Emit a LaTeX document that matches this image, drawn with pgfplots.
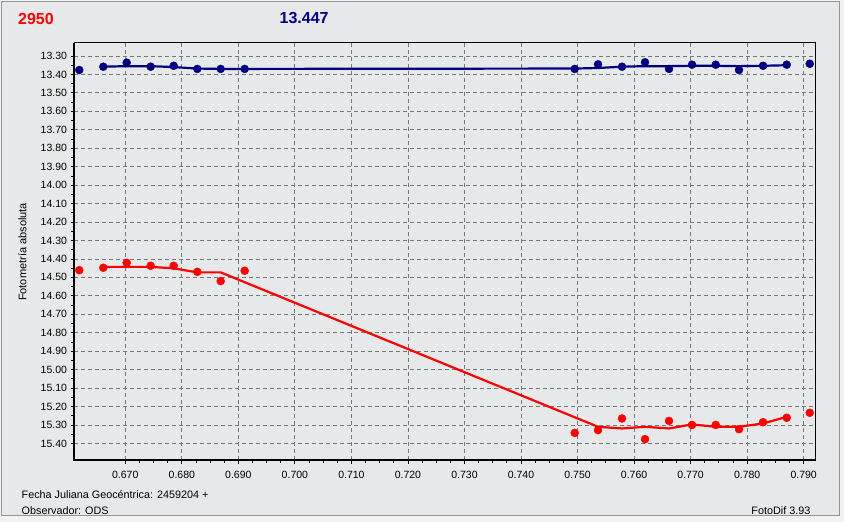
\documentclass[border=0pt]{standalone}
\usepackage{pgfplots}
\pgfplotsset{compat=1.18}
\usepackage{pgfplotstable}
\usepackage{fontspec}
\setmainfont{Liberation Sans}
\definecolor{bg}{RGB}{231,232,233}
\definecolor{outerbg}{RGB}{242,242,242}
\definecolor{framec}{RGB}{150,150,150}
\definecolor{navyc}{RGB}{0,0,128}
\definecolor{redc}{RGB}{255,0,0}
\definecolor{gridc}{RGB}{120,120,120}

\pgfplotstableread{
x y
0.66186 13.376
0.66611 13.358
0.67025 13.336
0.67449 13.358
0.67856 13.353
0.68274 13.370
0.68688 13.370
0.69112 13.370
0.74950 13.370
0.75362 13.345
0.75787 13.358
0.76193 13.334
0.76618 13.370
0.77025 13.347
0.77444 13.347
0.77856 13.376
0.78281 13.353
0.78700 13.347
0.79107 13.342
}\bluedata

\pgfplotstableread{
x y
0.66611 13.358
0.67025 13.355
0.67449 13.355
0.67856 13.360
0.68274 13.368
0.68688 13.370
0.69112 13.370
0.74950 13.368
0.75362 13.365
0.75787 13.358
0.76193 13.355
0.76618 13.355
0.77025 13.353
0.77444 13.353
0.77856 13.355
0.78281 13.353
0.78700 13.350
}\blueline

\pgfplotstableread{
x y
0.66186 14.461
0.66611 14.448
0.67025 14.421
0.67449 14.437
0.67856 14.437
0.68274 14.470
0.68688 14.520
0.69112 14.464
0.74950 15.343
0.75362 15.328
0.75787 15.265
0.76193 15.377
0.76618 15.278
0.77025 15.300
0.77444 15.300
0.77856 15.323
0.78281 15.285
0.78700 15.261
0.79107 15.234
}\reddata

\pgfplotstableread{
x y
0.66611 14.443
0.67025 14.443
0.67449 14.443
0.67856 14.451
0.68274 14.473
0.68688 14.473
0.75362 15.310
0.75787 15.319
0.76193 15.310
0.76618 15.319
0.77025 15.297
0.77444 15.310
0.77856 15.310
0.78281 15.292
0.78700 15.256
}\redline

\begin{document}
\begin{tikzpicture}
\fill[outerbg] (0pt,0pt) rectangle (844pt,522pt);
\fill[bg,draw=framec,line width=1.4pt] (1.2pt,6.3pt) rectangle (839.3pt,520.6pt);
\node[anchor=west,text=redc,font=\fontsize{16}{18}\selectfont\bfseries,inner sep=0pt] at (18pt,503.5pt) {2950};
\node[anchor=west,text=navyc,font=\fontsize{16}{18}\selectfont\bfseries,inner sep=0pt] at (279.5pt,503.5pt) {13.447};
\node[rotate=90,font=\fontsize{11}{13}\selectfont,inner sep=0pt] at (22.5pt,270pt) {Fotometría absoluta};
\node[anchor=west,font=\fontsize{10.8}{13}\selectfont,inner sep=0pt] at (21.5pt,27.5pt) {Fecha Juliana Geocéntrica: 2459204 +};
\node[anchor=west,font=\fontsize{10.8}{13}\selectfont,inner sep=0pt] at (21.5pt,11pt) {Observador: ODS};
\node[anchor=east,font=\fontsize{10.8}{13}\selectfont,inner sep=0pt] at (810.5pt,11pt) {FotoDif 3.93};
\begin{axis}[
  name=ax,
  at={(74pt,62pt)}, anchor=south west,
  scale only axis, width=741pt, height=417pt,
  xmin=0.66093, xmax=0.7920, ymin=13.2295, ymax=15.490,
  y dir=reverse,
  xtick={0.670,0.680,0.690,0.700,0.710,0.720,0.730,0.740,0.750,0.760,0.770,0.780,0.790},
  ytick={13.3,13.4,13.5,13.6,13.7,13.8,13.9,14.0,14.1,14.2,14.3,14.4,14.5,14.6,14.7,14.8,14.9,15.0,15.1,15.2,15.3,15.4},
  minor x tick num=3, minor y tick num=1,
  xmajorgrids, ymajorgrids,
  major grid style={gridc, line width=0.8pt, dash pattern=on 4pt off 3pt},
  axis line style={black, line width=1pt},
  tick align=outside, major tick length=3.5pt, minor tick length=3pt,
  tick style={black, line width=0.8pt},
  xtick pos=bottom, ytick pos=left,
  axis background/.style={fill=bg},
  /pgf/number format/assume math mode=true,
  xticklabel style={font=\fontsize{10.5}{12}\selectfont, yshift=-4pt, /pgf/number format/.cd, fixed, fixed zerofill, precision=3},
  yticklabel style={font=\fontsize{10.5}{12}\selectfont, /pgf/number format/.cd, fixed, fixed zerofill, precision=2},
  scaled x ticks=false, scaled y ticks=false,
  clip=false,
]
\addplot[navyc, line width=2.2pt, no marks] table {\blueline};
\addplot[navyc, only marks, mark=*, mark size=4pt, mark options={fill=navyc, draw=navyc}] table {\bluedata};
\addplot[redc, line width=2.2pt, no marks] table {\redline};
\addplot[redc, only marks, mark=*, mark size=4pt, mark options={fill=redc, draw=redc}] table {\reddata};
\end{axis}
\draw[black, line width=2.2pt] (ax.north west) -- (ax.south west) -- (ax.south east);
\end{tikzpicture}
\end{document}
